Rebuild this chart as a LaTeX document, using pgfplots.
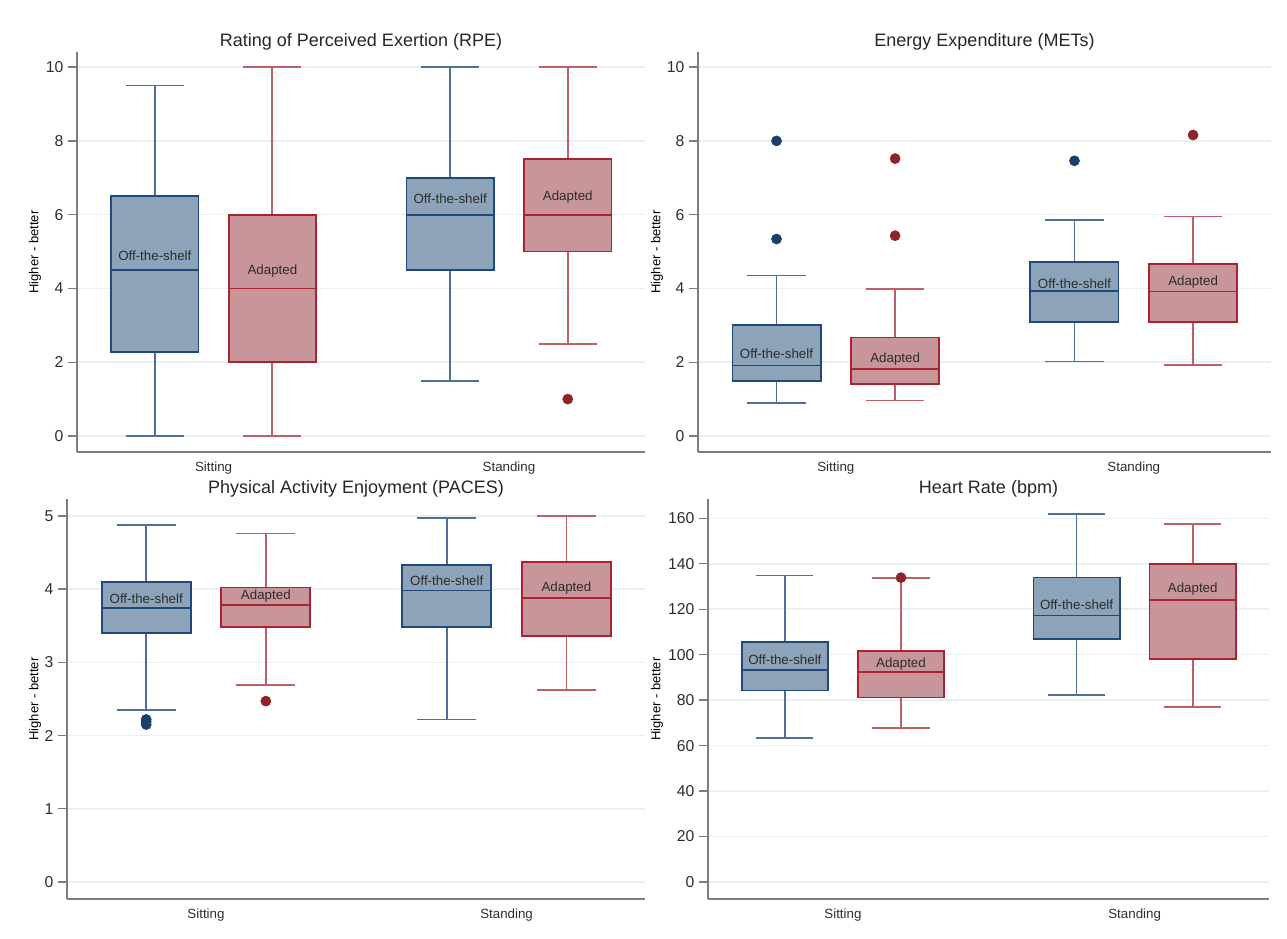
\documentclass[border=0pt]{standalone}
\usepackage{fontspec}
\setmainfont{Liberation Sans}
\usepackage{pgfplots}
\pgfplotsset{compat=1.18}
\usepgfplotslibrary{statistics}

\definecolor{bEdge}{RGB}{32,72,122}
\definecolor{bFill}{RGB}{141,163,185}
\definecolor{bWhisk}{RGB}{78,112,152}
\definecolor{bDot}{RGB}{28,62,108}
\definecolor{rEdge}{RGB}{168,36,48}
\definecolor{rFill}{RGB}{200,150,154}
\definecolor{rWhisk}{RGB}{190,96,106}
\definecolor{rDot}{RGB}{142,36,42}
\definecolor{gridc}{RGB}{232,240,242}
\definecolor{axc}{RGB}{125,125,125}
\definecolor{txt}{RGB}{45,45,45}

\tikzset{
  lbl/.style={font=\fontsize{10}{12}\selectfont, text=txt},
  cat/.style={font=\fontsize{10}{12}\selectfont, text=txt, anchor=base, yshift=-14.85pt},
}

\pgfplotsset{
 panel/.style={scale only axis, height=300pt, anchor=south west, xmin=0, xmax=100, clip=false,
  axis x line*=bottom, axis y line*=left, axis line style={-, draw=axc, line width=1.3pt},
  xtick=\empty, ymajorgrids, grid style={draw=gridc, line width=1.1pt},
  ytick style={draw=axc, line width=1pt}, tick align=outside, major tick length=6.75pt,
  yticklabel style={font=\fontsize{11.8}{13}\selectfont, text=txt},
  /pgf/number format/assume math mode=true,
  title style={at={(0.5,1)}, anchor=base, yshift=-1.8pt, font=\fontsize{13.5}{16}\selectfont, text=black!85},
  ylabel={Higher - better},
 },
 ots/.style={mark=*, mark size=3.8pt, mark options={draw=bDot, fill=bDot, solid}, draw=bWhisk,
   boxplot/draw direction=y,
   boxplot/box extend=15.4, boxplot/whisker extend=10.2,
   boxplot/every box/.style={draw=bEdge, fill=bFill, line width=1.3pt},
   boxplot/every whisker/.style={draw=bWhisk, line width=1.35pt},
   boxplot/every median/.style={draw=bEdge, line width=1.3pt}},
 adp/.style={mark=*, mark size=3.8pt, mark options={draw=rDot, fill=rDot, solid}, draw=rWhisk,
   boxplot/draw direction=y,
   boxplot/box extend=15.4, boxplot/whisker extend=10.2,
   boxplot/every box/.style={draw=rEdge, fill=rFill, line width=1.3pt},
   boxplot/every whisker/.style={draw=rWhisk, line width=1.35pt},
   boxplot/every median/.style={draw=rEdge, line width=1.3pt}},
}

\begin{document}
\begin{tikzpicture}
\path[use as bounding box] (0,0) rectangle (965.25pt,703.5pt);

% ---------- Panel 1: RPE ----------
\begin{axis}[panel, at={(57.75pt,364.5pt)}, width=426pt,
  ymin=-0.434, ymax=10.41, ytick={0,2,...,10},
  title={Rating of Perceived Exertion (RPE)},
  ylabel style={at={(axis description cs:-0.074,0.5)}, anchor=center, font=\fontsize{9.75}{11}\selectfont, text=black}]
\addplot[ots, boxplot prepared={draw position=13.7, lower whisker=0, lower quartile=2.28, median=4.5, upper quartile=6.5, upper whisker=9.5}] coordinates {};
\addplot[adp, boxplot prepared={draw position=34.4, lower whisker=0, lower quartile=2, median=4, upper quartile=6, upper whisker=10}] coordinates {};
\addplot[ots, boxplot prepared={draw position=65.7, lower whisker=1.5, lower quartile=4.5, median=6, upper quartile=7, upper whisker=10}] coordinates {};
\addplot[adp, boxplot prepared={draw position=86.4, lower whisker=2.5, lower quartile=5, median=6, upper quartile=7.5, upper whisker=10}] table[row sep=\\, y index=0] {data\\ 1\\};
\node[lbl] at (axis cs:13.7,4.9) {Off-the-shelf};
\node[lbl] at (axis cs:34.4,4.47) {Adapted};
\node[lbl] at (axis cs:65.7,6.42) {Off-the-shelf};
\node[lbl] at (axis cs:86.4,6.48) {Adapted};
\node[cat] at (axis description cs:0.2405,0) {Sitting};
\node[cat] at (axis description cs:0.7605,0) {Standing};
\end{axis}

% ---------- Panel 2: METs ----------
\begin{axis}[panel, at={(523.5pt,364.5pt)}, width=429.75pt,
  ymin=-0.434, ymax=10.41, ytick={0,2,...,10},
  title={Energy Expenditure (METs)},
  ylabel style={at={(axis description cs:-0.0716,0.5)}, anchor=center, font=\fontsize{9.75}{11}\selectfont, text=black}]
\addplot[ots, boxplot prepared={draw position=13.7, lower whisker=0.9, lower quartile=1.49, median=1.91, upper quartile=3.0, upper whisker=4.35}] table[row sep=\\, y index=0] {data\\ 5.34\\ 8.0\\};
\addplot[adp, boxplot prepared={draw position=34.4, lower whisker=0.96, lower quartile=1.40, median=1.81, upper quartile=2.67, upper whisker=3.99}] table[row sep=\\, y index=0] {data\\ 5.43\\ 7.52\\};
\addplot[ots, boxplot prepared={draw position=65.7, lower whisker=2.02, lower quartile=3.10, median=3.93, upper quartile=4.72, upper whisker=5.86}] table[row sep=\\, y index=0] {data\\ 7.46\\};
\addplot[adp, boxplot prepared={draw position=86.4, lower whisker=1.93, lower quartile=3.10, median=3.92, upper quartile=4.67, upper whisker=5.95}] table[row sep=\\, y index=0] {data\\ 8.16\\};
\node[lbl] at (axis cs:13.7,2.24) {Off-the-shelf};
\node[lbl] at (axis cs:34.4,2.08) {Adapted};
\node[lbl] at (axis cs:65.7,4.14) {Off-the-shelf};
\node[lbl] at (axis cs:86.4,4.18) {Adapted};
\node[cat] at (axis description cs:0.2405,0) {Sitting};
\node[cat] at (axis description cs:0.7605,0) {Standing};
\end{axis}

% ---------- Panel 3: PACES ----------
\begin{axis}[panel, at={(50.25pt,29.25pt)}, width=433.5pt,
  ymin=-0.232, ymax=5.23, ytick={0,1,...,5},
  title={Physical Activity Enjoyment (PACES)},
  ylabel style={at={(axis description cs:-0.0554,0.5)}, anchor=center, font=\fontsize{9.75}{11}\selectfont, text=black}]
\addplot[ots, boxplot prepared={draw position=13.7, lower whisker=2.35, lower quartile=3.40, median=3.74, upper quartile=4.10, upper whisker=4.88}] table[row sep=\\, y index=0] {data\\ 2.15\\ 2.19\\ 2.22\\};
\addplot[adp, boxplot prepared={draw position=34.4, lower whisker=2.69, lower quartile=3.48, median=3.78, upper quartile=4.02, upper whisker=4.76}] table[row sep=\\, y index=0] {data\\ 2.47\\};
\addplot[ots, boxplot prepared={draw position=65.7, lower whisker=2.22, lower quartile=3.48, median=3.98, upper quartile=4.33, upper whisker=4.97}] coordinates {};
\addplot[adp, boxplot prepared={draw position=86.4, lower whisker=2.62, lower quartile=3.36, median=3.88, upper quartile=4.37, upper whisker=5.0}] coordinates {};
\node[lbl] at (axis cs:13.7,3.87) {Off-the-shelf};
\node[lbl] at (axis cs:34.4,3.91) {Adapted};
\node[lbl] at (axis cs:65.7,4.11) {Off-the-shelf};
\node[lbl] at (axis cs:86.4,4.02) {Adapted};
\node[cat] at (axis description cs:0.2405,0) {Sitting};
\node[cat] at (axis description cs:0.7605,0) {Standing};
\end{axis}

% ---------- Panel 4: Heart rate ----------
\begin{axis}[panel, at={(531pt,29.25pt)}, width=420.75pt,
  ymin=-7.5, ymax=168.5, ytick={0,20,...,160},
  title={Heart Rate (bpm)},
  ylabel style={at={(axis description cs:-0.0909,0.5)}, anchor=center, font=\fontsize{9.75}{11}\selectfont, text=black}]
\addplot[ots, boxplot prepared={draw position=13.7, lower whisker=63.5, lower quartile=84.2, median=93.3, upper quartile=105.6, upper whisker=134.8}] coordinates {};
\addplot[adp, boxplot prepared={draw position=34.4, lower whisker=67.6, lower quartile=81.2, median=92.4, upper quartile=101.6, upper whisker=133.6}] table[row sep=\\, y index=0] {data\\ 133.9\\};
\addplot[ots, boxplot prepared={draw position=65.7, lower whisker=82.1, lower quartile=106.9, median=117.2, upper quartile=133.9, upper whisker=162.0}] coordinates {};
\addplot[adp, boxplot prepared={draw position=86.4, lower whisker=77.1, lower quartile=98.2, median=124.2, upper quartile=139.9, upper whisker=157.5}] coordinates {};
\node[lbl] at (axis cs:13.7,97.8) {Off-the-shelf};
\node[lbl] at (axis cs:34.4,96.0) {Adapted};
\node[lbl] at (axis cs:65.7,121.8) {Off-the-shelf};
\node[lbl] at (axis cs:86.4,128.9) {Adapted};
\node[cat] at (axis description cs:0.2405,0) {Sitting};
\node[cat] at (axis description cs:0.7605,0) {Standing};
\end{axis}
\end{tikzpicture}
\end{document}
